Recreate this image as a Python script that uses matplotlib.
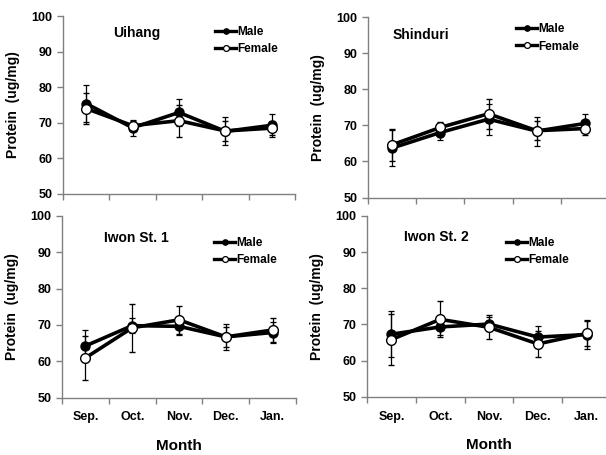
import matplotlib
matplotlib.use("Agg")
import matplotlib.pyplot as plt
from matplotlib.lines import Line2D
import numpy as np

plt.rcParams['font.family'] = ['Liberation Sans', 'DejaVu Sans']
plt.rcParams['font.weight'] = 'bold'

months = ["Sep.", "Oct.", "Nov.", "Dec.", "Jan."]
sites = ["Uihang", "Shinduri", "Iwon St. 1", "Iwon St. 2"]

male_uihang = [75.4, 68.6, 72.9, 67.6, 69.3]
male_uihang_err = [5.1, 2.2, 3.9, 3.9, 3.2]
female_uihang = [74.0, 69.2, 70.6, 67.7, 68.5]
female_uihang_err = [4.4, 1.2, 4.5, 2.8, 2.0]

male_shinduri = [63.7, 68.0, 71.7, 68.4, 70.5]
male_shinduri_err = [5.1, 2.2, 4.3, 4.0, 2.7]
female_shinduri = [64.6, 69.4, 73.2, 68.5, 69.1]
female_shinduri_err = [4.5, 1.5, 4.2, 2.7, 1.8]

male_iwon1 = [64.2, 69.8, 69.6, 66.7, 67.9]
male_iwon1_err = [4.4, 2.0, 2.3, 3.5, 2.8]
female_iwon1 = [60.9, 69.2, 71.4, 66.7, 68.6]
female_iwon1_err = [6.0, 6.6, 3.8, 2.8, 3.4]

male_iwon2 = [67.3, 69.3, 70.1, 66.5, 67.2]
male_iwon2_err = [6.3, 2.3, 2.0, 3.0, 4.0]
female_iwon2 = [65.8, 71.4, 69.2, 64.6, 67.5]
female_iwon2_err = [7.0, 5.0, 3.3, 3.6, 3.5]

W, H = 606, 455
fig = plt.figure(figsize=(W / 100, H / 100), dpi=100)


def px_axes(left, right, top, bottom):
    return fig.add_axes([left / W, 1 - bottom / H, (right - left) / W, (bottom - top) / H])


panels = [
    dict(box=(63, 295, 16, 194), title=sites[0], tpos=(0.216, 0.905), lpos=(0.655, 0.945),
         m=male_uihang, me=male_uihang_err, f=female_uihang, fe=female_uihang_err, bottom=False),
    dict(box=(368, 609, 17, 197.5), title=sites[1], tpos=(0.10, 0.90), lpos=(0.615, 0.965),
         m=male_shinduri, me=male_shinduri_err, f=female_shinduri, fe=female_shinduri_err, bottom=False),
    dict(box=(62, 296, 216, 397.5), title=sites[2], tpos=(0.18, 0.88), lpos=(0.65, 0.885),
         m=male_iwon1, me=male_iwon1_err, f=female_iwon1, fe=female_iwon1_err, bottom=True),
    dict(box=(367, 611, 216, 396.7), title=sites[3], tpos=(0.15, 0.882), lpos=(0.57, 0.885),
         m=male_iwon2, me=male_iwon2_err, f=female_iwon2, fe=female_iwon2_err, bottom=True),
]

x = np.arange(1, len(months) + 1)
spine_c = "#808080"

for p in panels:
    ax = px_axes(*p["box"])
    ax.errorbar(x, p["m"], yerr=p["me"], color="black", lw=2.6, marker="o", ms=6.5,
                mfc="black", mec="black", ecolor="black", elinewidth=0.9, capsize=2.5,
                capthick=0.9, zorder=3)
    ax.errorbar(x, p["f"], yerr=p["fe"], color="black", lw=2.6, marker="o", ms=7,
                mfc="white", mec="black", mew=1.0, ecolor="black", elinewidth=0.9, capsize=2.5,
                capthick=0.9, zorder=4)
    ax.set_xlim(0.5, len(months) + 0.5)
    ax.set_ylim(50, 100)
    ax.set_yticks([50, 60, 70, 80, 90, 100])
    ax.set_xticks(np.arange(0.5, len(months) + 1, 1.0))
    ax.set_xticklabels([])
    ax.set_xticks(x, minor=True)
    if p["bottom"]:
        ax.set_xticklabels(months, minor=True, fontsize=9, fontweight="bold")
        ax.set_xlabel("Month", fontsize=11, fontweight="bold", labelpad=11)
    ax.tick_params(axis="x", which="minor", length=0, pad=10)
    ax.tick_params(axis="both", which="major", direction="out", length=4, width=1,
                   color=spine_c, labelsize=9)
    for lab in ax.get_yticklabels():
        lab.set_fontweight("bold")
    for s in ["top", "right"]:
        ax.spines[s].set_visible(False)
    for s in ["left", "bottom"]:
        ax.spines[s].set_color(spine_c)
        ax.spines[s].set_linewidth(1)
    ax.set_ylabel("Protein  (ug/mg)", fontsize=10, fontweight="bold", labelpad=8)
    ax.text(p["tpos"][0], p["tpos"][1], p["title"], transform=ax.transAxes,
            fontsize=10, fontweight="bold", ha="left", va="center")
    handles = [
        Line2D([], [], color="black", lw=2.4, marker="o", ms=3.8, mfc="black", mec="black"),
        Line2D([], [], color="black", lw=2.4, marker="o", ms=4.2, mfc="white", mec="black", mew=0.9),
    ]
    ax.legend(handles, ["Male", "Female"], loc="upper left", bbox_to_anchor=p["lpos"],
              frameon=False, handlelength=1.8, handletextpad=0.1, labelspacing=0.45,
              borderpad=0, borderaxespad=0,
              prop={"family": ["Liberation Sans Narrow", "Liberation Sans"], "weight": "bold", "size": 8.5})

fig.savefig("out.png", dpi=100)
